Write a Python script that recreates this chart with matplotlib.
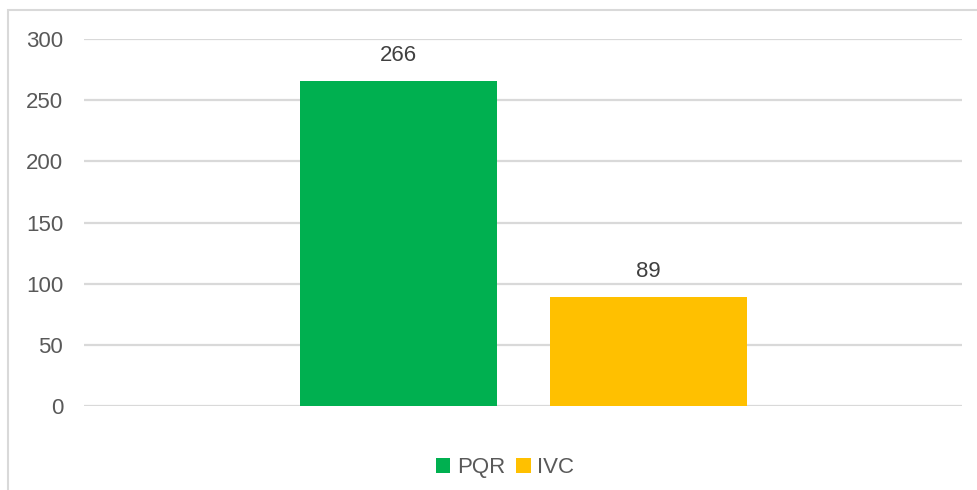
import matplotlib.pyplot as plt
from matplotlib.patches import Rectangle

plt.rcParams['font.family'] = ['Liberation Sans', 'DejaVu Sans']

series = ['PQR', 'IVC']
values = [266, 89]
colors = ['#00B050', '#FFC000']
yticks = [0, 50, 100, 150, 200, 250, 300]

fig = plt.figure(figsize=(9.78, 4.9), dpi=100)
ax = fig.add_axes([84 / 978, 1 - 406 / 490, 878 / 978, 367 / 490])

# outer chart border (right/bottom edges fall off the image)
fig.patches.append(Rectangle((8 / 978, -0.1), 1.2, 1 - 10 / 490 + 0.1,
                             transform=fig.transFigure, fill=False,
                             edgecolor='#D9D9D9', linewidth=1.5))

width = 0.2245
offsets = [-0.142, 0.143]
for name, val, col, off in zip(series, values, colors, offsets):
    ax.bar(off, val, width=width, color=col, label=name, zorder=3)
    ax.text(off, val + 12, str(val), ha='center', va='bottom',
            fontsize=16, color='#404040')

ax.set_xlim(-0.5, 0.5)
ax.set_ylim(0, 300)
ax.set_yticks(yticks)
ax.set_xticks([])
ax.grid(axis='y', color='#D9D9D9', linewidth=1.6, zorder=0)
for s in ax.spines.values():
    s.set_visible(False)
ax.tick_params(axis='y', length=0, pad=15, labelsize=16, labelcolor='#595959')

ax.legend(loc='upper center', bbox_to_anchor=(0.4795, -0.085), ncol=2, frameon=False,
          fontsize=16, labelcolor='#595959', handlelength=0.65, handleheight=0.65,
          handletextpad=0.3, columnspacing=0.5)

fig.savefig('out.png', dpi=100)
